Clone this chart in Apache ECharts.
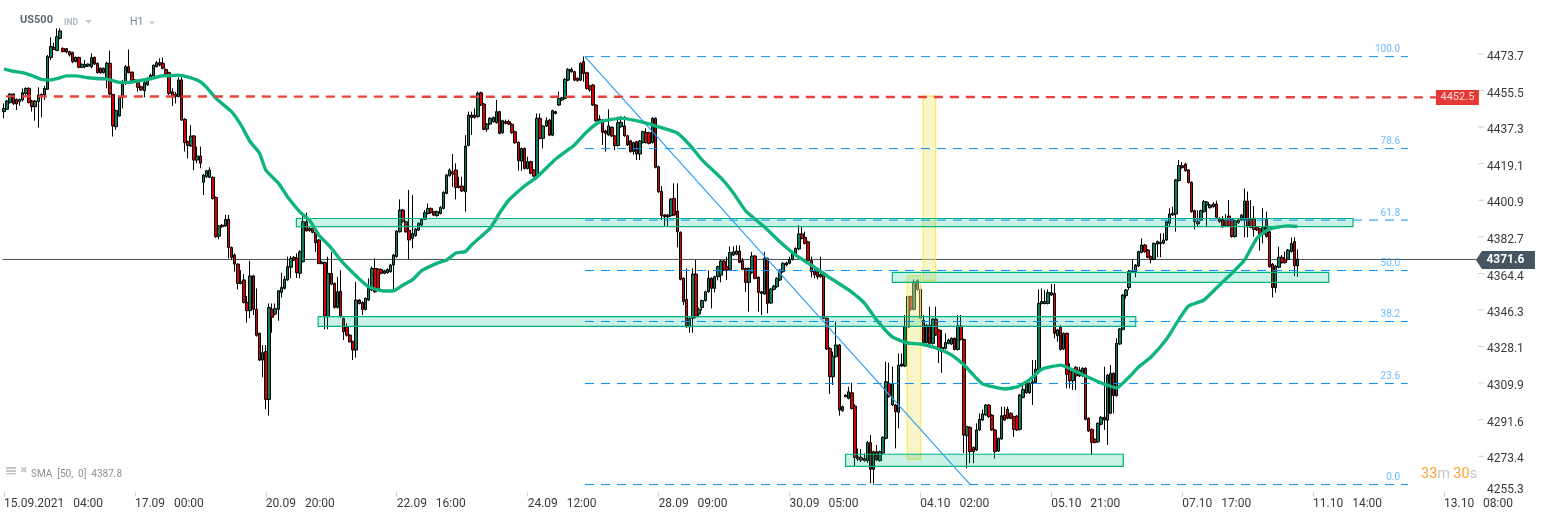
<!DOCTYPE html>
<html><head><meta charset="utf-8">
<style>html,body{margin:0;padding:0;background:#fff}#c{width:1546px;height:518px}</style>
<script src="https://cdn.jsdelivr.net/npm/echarts@6/dist/echarts.min.js"></script>
</head><body><div id="c"></div>
<script>
// [open, close, low, high]
const ohlcPart1 = [
[4445.0,4446.6,4441.7,4449.1],[4446.2,4450.3,4445.8,4450.8],[4449.5,4453.8,4449.1,4454.1],[4453.8,4449.1,4448.3,4454.1],[4451.1,4448.8,4445.8,4451.6],[4450,4451.1,4448,4451.5],[4450.8,4454.5,4450,4456.6],[4454.1,4456.6,4452.5,4457.1],[4456.6,4449.5,4449.1,4457.1],[4450.3,4447.5,4445,4450.8],
[4447.5,4450.3,4440.5,4450.8],[4450,4453.3,4437,4457.1],[4452.5,4453.6,4442.2,4454.1],[4453.3,4456.6,4450.8,4457.8],[4456.1,4472.4,4455.8,4473.2],[4472,4477.4,4470.7,4482],[4477,4476,4475.7,4479.4],[4475.4,4482.3,4475.4,4486.5],[4481.5,4485.2,4481,4486.5],[4476.5,4474.9,4474.5,4477],
[4476.4,4474.7,4474,4476.6],[4474.9,4473.2,4472.5,4475.3],[4474.4,4469.9,4469.1,4474.9],[4469.9,4472,4469.5,4472.5],[4472,4467.1,4466.6,4472.4],[4467.1,4468.6,4466.8,4469],[4467.4,4468.4,4466.6,4470.7],[4467.7,4468.7,4467.2,4469],[4467.4,4472,4466.6,4474],[4472,4468.7,4468.2,4472.5],
[4469.1,4464.4,4464,4469.5],[4466.6,4464.4,4463.8,4467],[4464.4,4466.6,4464,4467],[4461.6,4469.1,4456.6,4469.9],[4469.1,4453.8,4453.3,4475.4],[4453.6,4437.9,4432.6,4453.6],[4437.5,4445.5,4435.9,4446],[4442.8,4452.1,4442.5,4452.5],[4452.1,4459.1,4446.6,4460.8],[4459.1,4467.4,4458.3,4468.2],
[4467.4,4464.4,4464.1,4476],[4464.7,4460.4,4459.9,4464.9],[4460.8,4459.9,4459.5,4461.2],[4460.3,4457.1,4454.9,4460.8],[4457.4,4455.8,4455.3,4458],[4455.4,4459.4,4452.1,4461.6],[4458.3,4461.6,4458,4462],[4461.6,4463.1,4461.2,4463.8],[4462.8,4468.1,4462.4,4468.5],[4467.4,4469.4,4467,4470.2],
[4469.4,4468.2,4467.5,4471.5],[4469.1,4466.6,4466,4472],[4466,4463.7,4463.2,4466.5],[4464.4,4454.1,4453.3,4464.9],[4454.9,4452.5,4447.8,4456.6],[4453.8,4452.5,4449.1,4454.9],[4452.5,4460.8,4452.1,4462.1],[4460.8,4440.8,4440.5,4462.1],[4441.2,4429.6,4425.1,4441.7],[4430.1,4428.1,4421.7,4430.6],
[4427.9,4432.9,4427.5,4438.3],[4432.9,4420.9,4415.9,4433.4],[4420.9,4422.9,4419.3,4427.6],[4422.9,4419.3,4416.8,4427.6],[4409.8,4413.4,4403.5,4414],[4412.6,4415.6,4412,4416],[4412.3,4415.9,4411.9,4417.3],[4412.3,4401.8,4401.2,4412.8],[4402.3,4382.7,4382.2,4402.8],[4383,4388.1,4381.4,4388.5],
[4388.5,4387.7,4387.2,4389],[4388,4391.4,4387.6,4393.6],[4391.4,4377.4,4371.9,4393.6],[4377.4,4372.4,4371,4377.8],[4373.6,4369.1,4365.3,4374.4],[4369.1,4359.5,4356.5,4369.5],[4359.5,4360.3,4359,4366.1],[4361.2,4350,4349.5,4364.1],[4350,4345.9,4339.9,4353.2],[4345.9,4363.2,4342.1,4370.8],
[4363.2,4346.6,4343.7,4363.8],[4346.6,4333.6,4333,4357],[4334.6,4321.3,4320.8,4335],[4321.3,4325,4312.7,4328.8],[4325.5,4301.7,4296.8,4328.8],[4301.7,4347.5,4293.6,4349.5],[4346.6,4342.6,4334.9,4349.5],[4344.2,4346.9,4343.5,4349.5],[4346.6,4355.8,4340.9,4356.2],[4355,4357.5,4352.4,4364.8],
[4357,4361.5,4356.5,4363.2],[4361.2,4367.8,4360.8,4372.8],[4367.5,4371.9,4362,4373.1],[4372.4,4371.1,4370.6,4373.1],[4372,4364.8,4362.2,4374.4]
];
const ohlcPart2 = [
[4364.5,4375.2,4362,4376],[4370.3,4390.2,4369.8,4393],[4390.2,4385.7,4385.2,4394.7],[4386.9,4385.7,4385.2,4387.4],[4386.9,4384.9,4384.4,4388],[4384.9,4379.7,4375.2,4385.4],[4381.1,4369.4,4369,4381.6],[4369.4,4370.1,4368.9,4370.6],[4369.9,4342.9,4336.6,4370.3],[4342.9,4364.5,4336.6,4372.8],
[4364.5,4359.1,4358.6,4375.2],[4359.5,4347.5,4347,4360],[4347.5,4355.3,4347,4362.8],[4355.6,4342.9,4342.4,4366.1],[4342,4335.4,4331.3,4342.5],[4337.9,4333.7,4333,4339.6],[4333.7,4330.4,4330,4334.2],[4330.4,4326.3,4321.3,4331],[4326.3,4351.2,4322.5,4360.3],[4351.2,4349.5,4349,4351.7],
[4350,4346.5,4343.7,4350.5],[4346.5,4352,4346,4352.5],[4351.2,4357,4350.7,4362],[4356.2,4366.9,4355.7,4367.8],[4366.9,4355.3,4354.8,4371.9],[4366.6,4356.2,4355.7,4367],[4366.4,4364.5,4364,4367],[4364.5,4365.8,4364,4366.3],[4364.8,4366.4,4364.3,4367],[4365.3,4368.6,4364.8,4369.2],
[4368.6,4373.6,4356.2,4374.2],[4372.8,4385.5,4372.3,4386],[4385.2,4396,4384.7,4401.3],[4396,4390.2,4389.7,4396.5],[4390.2,4385.2,4384.7,4390.7],[4386,4381.1,4371.6,4406],[4381.9,4384.4,4376.9,4403.5],[4383.2,4386.5,4382.7,4387],[4386,4389.4,4385.5,4389.9],[4388.5,4391.4,4388,4392],
[4391.4,4394.7,4391,4396],[4394.3,4396.8,4393.8,4399.3],[4396.8,4394.7,4394.2,4397.3],[4395.2,4393.5,4393,4395.7],[4393.2,4395.2,4392.7,4395.7],[4394.3,4397.3,4393.8,4398],[4396.8,4404.8,4396.3,4405.3],[4404.3,4413.4,4403.8,4414],[4413.1,4415.9,4412.6,4416.7],[4415.1,4413.9,4407.6,4423.9],
[4415.9,4407.3,4401.3,4419.2],[4407.9,4407.3,4406.8,4412.6],[4407.9,4405.5,4405,4412.6],[4405.1,4427.9,4395.2,4433.3],[4428.2,4443.3,4427.7,4445],[4443.3,4442.1,4433.3,4445],[4443.3,4442.1,4441.6,4446.6],[4442.5,4454.1,4442,4455],[4454.4,4448.3,4447.8,4455],[4448.8,4436.2,4435.7,4449.3],
[4436.3,4438.8,4435,4439.3],[4438.8,4441.7,4438.3,4442.2],[4440,4442.1,4439.5,4442.6],[4439.5,4445,4439,4450.8],[4445,4434.2,4433.7,4445.5],[4434.5,4440.5,4434,4441],[4440,4439.2,4438.7,4441],[4440,4438.8,4438.3,4441],[4438.7,4434.5,4434,4439.2],[4435,4429.5,4429,4435.5],
[4429.7,4420.6,4415.6,4430.2],[4420.4,4426.7,4415.6,4427.2],[4426.7,4416.7,4416.2,4427.2],[4416.7,4420.1,4416.2,4422.6],[4420.1,4414.3,4413.8,4420.6],[4415.9,4412.9,4412.4,4416.4],[4412.6,4441.7,4411.3,4444.1],[4441.7,4431.7,4431.2,4444.1],[4431.7,4437.8,4426.7,4438.3],[4437.8,4440.5,4437.3,4442.1],
[4440.8,4433.3,4432.8,4441.3],[4433.3,4445.5,4432.8,4446],[4445,4444.1,4443.6,4445.5],[4448.3,4451.6,4447.8,4455],[4450.8,4451.9,4450.3,4452.4],[4451.6,4461.1,4451.1,4461.6],[4460.7,4466.1,4460.2,4466.6],[4466.1,4464.9,4464.4,4467],[4464.9,4460.7,4460.2,4465.4],[4461.6,4460.4,4459.9,4462.1],
[4460.7,4469,4460.2,4469.5],[4469.9,4464,4459.9,4472.5]
];
const ohlcPart3 = [
[4464.4,4456.6,4456,4464.9],[4457.8,4455.8,4454.9,4458.3],[4458.3,4448.3,4447.8,4458.8],[4448.3,4440.5,4440,4448.8],[4440.4,4441.3,4440,4443.3],[4440.8,4434.7,4428.4,4441.3],[4435.4,4434.2,4425.1,4436],[4433.4,4437.9,4433,4446.2],[4437.2,4432.9,4432.4,4437.7],[4432.9,4428.1,4425.9,4433.4],
[4428.1,4439.5,4427.6,4442.5],[4437.5,4439.7,4437,4442.8],[4437.9,4433,4432.5,4442.8],[4433,4428.4,4427.9,4433.5],[4430.5,4425.1,4424.6,4431],[4425.1,4429.6,4423.6,4430],[4430,4423.9,4420.9,4430.5],[4423.9,4430.4,4420.9,4430.9],[4429.6,4435,4429.1,4435.5],[4434.7,4429.6,4429.1,4436.7],
[4434.5,4429.2,4428.7,4435],[4429.6,4441.7,4429.1,4442.2],[4441.7,4417.3,4416.8,4442.2],[4417.6,4405.1,4404.6,4418.1],[4405.3,4393.2,4391,4408],[4393.5,4392.7,4387.7,4394],[4393.5,4392.7,4387.7,4394],[4393.2,4401.5,4392.7,4402],[4401.8,4393.5,4393,4409.3],[4395.5,4385.2,4377.4,4409.3],
[4384.9,4361.5,4361,4385.4],[4362,4350.4,4348.7,4362.5],[4351.5,4337.9,4337.4,4367],[4337.9,4342.1,4334.9,4342.6],[4342.1,4364.1,4334.9,4367],[4364.1,4342.9,4342.4,4371.1],[4344.2,4346.6,4342.7,4347.5],[4347.5,4350.9,4346,4351.4],[4350.9,4355.3,4350.4,4355.8],[4355.3,4362,4354.8,4366],
[4362,4357,4347,4362.5],[4357,4362.8,4355,4363.3],[4362.8,4367.8,4361,4368.3],[4363.6,4370.6,4360,4371.1],[4370.6,4366.1,4365.6,4371.1],[4367.8,4366.1,4361.2,4372.8],[4366.5,4374.9,4366,4377.8],[4373.6,4375.2,4373.1,4378],[4374,4375.6,4373.5,4378.4],[4375.6,4370,4369.5,4378.4],
[4370.8,4366.5,4366,4372],[4366.9,4360,4355.3,4367.4],[4360,4366.9,4345.4,4367.4],[4364.8,4373.1,4364.3,4375.2],[4373.1,4362,4361.5,4373.6],[4362.5,4355,4345.4,4363],[4355.3,4354.5,4343.7,4355.8],[4354.2,4371.9,4353.7,4375.2],[4371.9,4349.5,4344.6,4372.4],[4349.7,4356.7,4349.2,4357.2],
[4356.5,4358.2,4356,4358.7],[4357.8,4362,4357.3,4362.5],[4361.2,4366.1,4360.7,4366.6],[4365.3,4369.5,4364.8,4370],[4368.6,4369.7,4368,4370.2],[4369.5,4371.1,4369,4372.8],[4371.4,4374.4,4370.9,4375],[4374.1,4376.9,4373.6,4377.4],[4376.6,4384.1,4376,4388.5],[4384.1,4381.9,4381.4,4387.7],
[4382.4,4379.4,4378.9,4385.2],[4380.2,4370.8,4370.3,4380.7],[4370.8,4365.3,4362.5,4372.8],[4366.1,4363.7,4362,4366.6],[4365.3,4362.8,4361.5,4367],[4362.8,4364,4362.3,4372.8],[4363.7,4342.1,4341.6,4364.2]
];
const ohlcPart4 = [
[4342.1,4326.8,4326.3,4342.6],[4327.1,4313,4304.4,4327.6],[4313,4323.3,4308.9,4325.5],[4323,4328.8,4322.5,4340.4],[4328.8,4296.4,4293.6,4329.3],[4296.1,4298.1,4295.6,4298.6],[4303,4303.8,4303,4304.3],[4302.2,4305.5,4301.7,4308],[4305,4297.2,4296.7,4310],[4298.4,4272.8,4268.5,4299.4],
[4273,4272,4271,4277.3],[4272.8,4271.5,4270.5,4277],[4272.3,4271.2,4270.7,4274.8],[4271.2,4280.2,4270,4281],[4280.2,4266.9,4259.9,4284],[4266.9,4275.7,4259.9,4276.2],[4275.7,4271.5,4271,4279],[4271.2,4275.7,4270.7,4276.2],[4275,4282.8,4274.5,4283.3],[4282.3,4310.5,4281.8,4320.5],
[4309.7,4303.1,4302.6,4320],[4298.9,4309.7,4298.4,4318],[4298.9,4295.6,4277.3,4299.4],[4295.3,4318.8,4287.3,4324.6],[4319.3,4318.3,4317.8,4324.6],[4318.3,4337.9,4317.8,4343.7],[4337.6,4352.9,4337,4353.4],[4352.9,4346.6,4346,4353.5],[4346.6,4360.3,4346,4361.5],[4356.5,4360.8,4355.9,4361.5],
[4356.5,4342.1,4341,4358],[4341.2,4330,4329.5,4343.7],[4330,4338.7,4329.5,4339.2],[4338.7,4329.6,4329,4347.9],[4329.6,4341.7,4329,4342.2],[4341.7,4333.8,4333.3,4347.9],[4336.3,4326.3,4319.7,4336.8],[4327.6,4325.5,4315,4336.3],[4327.1,4330,4326.6,4334.6],[4329.6,4331.3,4329.1,4332],
[4329.3,4332.1,4328.8,4332.6],[4332.1,4326.6,4326.1,4332.6],[4326.6,4338.3,4326,4343.7],[4338.3,4331.6,4331,4343.7],[4331.6,4284,4275,4332],[4283.6,4288.1,4267.4,4288.6],[4287.8,4275.7,4269.9,4288.3],[4277.8,4275.7,4269.9,4278.3],[4276.5,4286.5,4276,4289.8],[4286.5,4291.8,4286,4294.8],
[4291.5,4294.4,4291,4296.7],[4294,4298.9,4293.5,4299.4],[4298.9,4293.1,4292.6,4299.4],[4293.9,4286.5,4286,4294.4],[4286.5,4275.7,4272.3,4287],[4276,4282.3,4275.5,4282.8],[4282,4293.6,4281.5,4298.1],[4293.9,4291.4,4291,4298.1],[4296.8,4292.3,4291.8,4298.1],[4294.8,4292.3,4291.8,4295.3],
[4293.1,4286.8,4283.1,4293.6],[4293.4,4286.5,4286,4293.9],[4286.8,4303.9,4286.3,4304.4],[4302.7,4306.7,4302.2,4309.7],[4305,4309.7,4304.5,4310.2],[4305,4309.7,4304.5,4310.2],[4309.7,4310.5,4298.9,4321.3],[4310.2,4316.8,4309.7,4321.3],[4316.6,4349.5,4316,4356.5],[4349.5,4350.4,4349,4357],
[4349.5,4350.4,4349,4356.2],[4349.5,4354.9,4349,4356.5],[4353.7,4354.9,4353.2,4359.2],[4354.5,4334.6,4332.1,4359.2],[4333.4,4336.3,4330.4,4336.8],[4337.6,4326.6,4326,4338.7],[4326.8,4334.6,4326.3,4335],[4334.6,4314.2,4307.2,4335],[4315.5,4311,4307.2,4319.7],[4311,4315.5,4306.4,4316],
[4317.7,4313.4,4306.4,4318.2],[4313.4,4316.3,4312.9,4318],[4313.4,4317.2,4312.9,4317.7],[4317.2,4291.8,4291.3,4317.7],[4292.3,4286,4285.5,4292.8],[4286.8,4280.3,4274,4287.3],[4281.8,4280.3,4279.8,4282.3],[4280.6,4289.8,4280.1,4290.3],[4289.3,4292.8,4288.8,4293.3],[4292.8,4291.4,4286.5,4318],
[4291.4,4313.8,4279,4314.3],[4294.8,4314.7,4294.3,4318.8],[4314.7,4303.6,4294.8,4315.2],[4303.6,4329.6,4303.1,4332.1],[4329.3,4336.8,4328.8,4337.3],[4336.6,4353.7,4336.1,4354.2],[4353.4,4356.2,4352,4356.7]
];
const ohlcPart5 = [
[4357.4,4365.3,4356.2,4366.2],[4365.3,4365.8,4364.8,4371.5],[4365.3,4368.6,4362.5,4369.1],[4368.1,4375.3,4367.6,4375.8],[4374.9,4378.6,4374.4,4381.9],[4378.6,4375.3,4374.8,4379.1],[4376.1,4372.5,4372,4376.6],[4372.8,4371.5,4369.5,4373.3],[4371.5,4379.4,4371,4379.9],[4379.1,4380.3,4372.5,4380.8],
[4379.2,4380,4372.5,4384.4],[4379.5,4381.1,4379,4384.4],[4381.1,4390.2,4380.6,4390.7],[4389.4,4394,4387.7,4396.9],[4393.6,4394.4,4393.1,4397.7],[4394,4411,4385.2,4411.5],[4410.7,4418.1,4410.2,4420.9],[4418.1,4417.1,4416.6,4420],[4418.9,4415.6,4415.1,4419.6],[4416,4409.7,4409.2,4416.3],
[4409.8,4395.2,4394.7,4410.3],[4395.7,4390.2,4386.4,4396.2],[4390.2,4389.1,4388.1,4396],[4391,4395.7,4390.5,4396.2],[4395.2,4400.2,4394.7,4401],[4398.5,4399.9,4387.4,4400.5],[4397.2,4398.5,4396.7,4399],[4399,4397.7,4397.2,4400],[4399,4392.4,4391.9,4400.7],[4391.9,4390.2,4389.7,4392.5],
[4391.4,4387.7,4387.2,4393],[4391,4388.1,4387.6,4394],[4393,4388.1,4387.6,4401],[4391.4,4382.8,4382.3,4391.9],[4382.8,4390.7,4382.3,4391.2],[4389.7,4391,4389.2,4391.5],[4391,4393.5,4390.5,4394],[4391,4400.5,4382.4,4406.8],[4400.5,4388.1,4382.4,4405.2],[4391.6,4387.4,4386.9,4401],
[4391.9,4386.4,4382.8,4398],[4387.4,4386.1,4385.6,4387.9],[4386.6,4383.9,4375.8,4387.1],[4383.9,4387.4,4379.4,4396.9],[4391.4,4382.8,4382.3,4395.2],[4385.2,4367.8,4367.3,4385.7],[4369.1,4357.4,4352.5,4369.6],[4357.4,4368.2,4354.9,4368.7],[4367.5,4372.5,4367,4377.8],[4372.5,4369.8,4369.3,4373.6],
[4371.5,4369.8,4369.3,4375.3],[4371.5,4376.1,4371,4376.6],[4375.3,4379.4,4374.8,4382.3],[4380.3,4368.2,4363.2,4382.4],[4368.2,4371.6,4362.8,4376.4]
];
const ohlc = [...ohlcPart1, ...ohlcPart2, ...ohlcPart3, ...ohlcPart4, ...ohlcPart5];

const smaIndex = [0,3,6,9,12,15,17,20,23,27,31,33,37,40,44,47,51,53,56,60,63,65,68,73,76,79,82,84,88,91,95,98,101,105,108,113,117,122,125,128,131,134,139,142,145,148,150,156,159,162,167,171,177,183,187,191,198,202,206,210,216,220,224,230,234,238,244,249,254,260,265,271,276,280,285,290,294,299,304,308,311,314,321,325,329,333,339,343,347,352,357,361,364,368,373,377,380,385,390,394,398,402,406,412,415];
const smaValues = [4466.2,4465.1,4464.4,4462.9,4461.1,4460.8,4461.4,4462.8,4462.8,4461.9,4461.4,4461.3,4459.6,4459.6,4460.6,4461.4,4462.9,4462.9,4463.2,4461.8,4459.9,4457.1,4451.6,4445,4438.4,4430,4424.3,4415.9,4409.5,4402.5,4395,4391,4383.6,4377.1,4371.1,4363.2,4357.8,4355.7,4355.8,4358.7,4361.2,4365.8,4369.6,4371.1,4374.6,4375.3,4378.6,4387,4394.5,4401,4408,4412.5,4421.4,4428.4,4435,4439.8,4441.8,4440.8,4439.3,4437.4,4434.4,4428.4,4420.9,4412,4404.5,4395.5,4387.6,4380.1,4373.6,4367.6,4362.2,4356.2,4349.7,4341.2,4332.8,4329.8,4329.3,4327.3,4323.8,4318.8,4313.9,4309.4,4306.9,4307.9,4311.4,4316.8,4318.8,4316.3,4313.4,4309.9,4307.4,4312.9,4317.8,4322.8,4331.8,4341.7,4348.2,4351.2,4358.7,4364.6,4371.1,4382,4386.6,4388.1,4387.8];

const yTicks = [4473.7,4455.5,4437.3,4419.1,4400.9,4382.7,4364.4,4346.3,4328.1,4309.9,4291.6,4273.4];
const yBottomLabel = 4255.3;
const timeLabels = ['15.09.2021   04:00','17.09   00:00','20.09   20:00','22.09   16:00','24.09   12:00','28.09   09:00','30.09   05:00','04.10   02:00','05.10   21:00','07.10   17:00','11.10   14:00','13.10   08:00'];
const labelEvery = 42;
const slotCount = 473;
const categories = Array.from({length: slotCount}, (_, i) => i);

const fibNames = ['100.0','78.6','61.8','50.0','38.2','23.6','0.0'];
const fibPrices = [4472.4,4426.6,4391,4365.9,4340.5,4309.6,4259.3];
const fibStart = 186.4, fibEnd = 450.4, fibLabelAt = 447.9;
const trendIndex = [186.4,310], trendPrice = [4472.4,4259.3];
const zonesGreen = [[93.8,432.8,4391.8,4387.7],[285,425,4365,4360],[100.8,363.1,4342.9,4338.1],[270,359.1,4274.4,4268.4]];
const zonesYellow = [[294.9,298.9,4452.8,4360.8],[289.8,294.1,4363.2,4271.9]];
const resistIndex = [0.6,459.4], resistPrice = [4452.6,4452.1], resistLabel = '4452.5';
const lastPrice = 4371.6, lastLineLevel = 4371.4, lastLabel = '4371.6';

const font = 'Roboto';
const chart = echarts.init(document.getElementById('c'), null, {renderer: 'canvas'});

function rectSeries(list, fill, stroke, lw, z) {
  return {
    type: 'custom', xAxisIndex: 1, yAxisIndex: 0, z, silent: true, animation: false,
    data: list, encode: {x: [0, 1], y: [2, 3]},
    renderItem(params, api) {
      const a = api.coord([api.value(0), api.value(2)]);
      const b = api.coord([api.value(1), api.value(3)]);
      return {type: 'rect',
        shape: {x: a[0], y: a[1], width: b[0] - a[0], height: b[1] - a[1]},
        style: {fill, stroke, lineWidth: lw}};
    }
  };
}
function lineSeries(data, color, width, type, z, extra) {
  return Object.assign({
    type: 'line', xAxisIndex: 1, yAxisIndex: 0, data, showSymbol: false, symbol: 'none',
    silent: true, animation: false, z, lineStyle: {color, width, type}
  }, extra || {});
}

const series = [
  {type: 'candlestick', xAxisIndex: 0, yAxisIndex: 0, data: ohlc, barWidth: 3, z: 2, silent: true, animation: false, large: false,
   itemStyle: {color: '#0a7d5c', color0: '#d80000', borderColor: '#000', borderColor0: '#000', borderWidth: 1}},
  lineSeries([[-0.5, lastLineLevel],[slotCount-0.5, lastLineLevel]], '#454f56', 1, 'solid', 1),
  rectSeries(zonesYellow, 'rgba(240,232,140,0.45)', '#ffe93b', 1, 3),
  rectSeries(zonesGreen, 'rgba(0,190,130,0.21)', '#00b383', 1.2, 4),
];
fibPrices.forEach(p => series.push(lineSeries([[fibStart,p],[fibEnd,p]], '#0091ff', 1, [9,7], 5)));
series.push(lineSeries(trendIndex.map((x,i)=>[x,trendPrice[i]]), '#2f9bf5', 1.2, 'solid', 5));
series.push(lineSeries(smaIndex.map((x,i)=>[x,smaValues[i]]), '#0eb47f', 3.4, 'solid', 6, {smooth: 0.15}));
series.push(lineSeries(resistIndex.map((x,i)=>[x,resistPrice[i]]), '#e8403c', 2.4, [9,7], 7));
series.push({type:'scatter', xAxisIndex:1, yAxisIndex:0, z:8, silent:true, animation:false, symbolSize:0,
  data: fibNames.map((n,i)=>({value:[fibLabelAt,fibPrices[i]], name:n})),
  label:{show:true, position:'top', distance:2, align:'right', formatter:'{b}', color:'#4aa8ff', fontSize:10, fontFamily:font}});
series.push({type:'scatter', xAxisIndex:1, yAxisIndex:0, z:9, silent:true, animation:false, clip:false,
  symbol:'rect', symbolSize:[43,15], itemStyle:{color:'#e53935', opacity:1},
  data:[[466.3, resistPrice[1]]],
  label:{show:true, position:'inside', formatter:resistLabel, color:'#ffe3e1', fontSize:11, fontFamily:font}});
series.push({type:'scatter', xAxisIndex:1, yAxisIndex:0, z:9, silent:true, animation:false, clip:false,
  symbol:'path://M0 9 L6 0 H59 V18 H6 Z', symbolKeepAspect:false, symbolSize:[59,18], symbolOffset:[0,1], itemStyle:{color:'#46555f', opacity:1},
  data:[[481.7, lastPrice]],
  label:{show:true, position:'inside', formatter:lastLabel, color:'#fff', fontSize:12, fontWeight:'bold', fontFamily:font}});
// right-hand tick marks beside the price labels
series.push({type:'scatter', xAxisIndex:1, yAxisIndex:0, z:1, silent:true, animation:false, clip:false,
  symbol:'rect', symbolSize:[6,1], itemStyle:{color:'#c8d0d6', opacity:1},
  data: yTicks.map(v=>[473.9, v])});

const gText = (x,y,text,fill,size,weight) => ({type:'text', left:x, top:y, silent:true,
  style:{text, fill, fontSize:size, fontFamily:font, fontWeight:weight||'normal'}});
const tri = (x,y,w,h,fill) => ({type:'polygon', silent:true, shape:{points:[[x,y],[x+w,y],[x+w/2,y+h]]}, style:{fill}});

chart.setOption({
  animation: false,
  backgroundColor: '#fff',
  grid: {left: 2.44, top: 0, width: 1474.3, height: 492.6, containLabel: false},
  xAxis: [
    {type:'category', data:categories, boundaryGap:true, position:'bottom',
     axisLine:{show:false},
     axisTick:{show:true, alignWithLabel:true, length:4, interval:(i)=>i%labelEvery===0, lineStyle:{color:'#c8ced3'}},
     axisLabel:{show:true, interval:(i)=>i%labelEvery===0, align:'left', margin:5, hideOverlap:false,
       color:'#3a3a3a', fontSize:12, fontFamily:font,
       formatter:(v,i)=>timeLabels[i/labelEvery]||''},
     splitLine:{show:false}},
    {type:'value', min:-0.5, max:slotCount-0.5, show:false, splitLine:{show:false}}
  ],
  yAxis: [{
    type:'value', position:'right', min:yBottomLabel, max:4500.6, offset:1.2, scale:true,
    axisLine:{show:false},
    axisTick:{show:false},
    axisLabel:{show:true, margin:9, padding:[6,0,0,0], color:'#3a3a3a', fontSize:12, fontFamily:font,
      customValues:[...yTicks, yBottomLabel], showMinLabel:true, showMaxLabel:true,
      formatter:(v)=> Math.abs(v-yBottomLabel)<0.01 ? '{low|'+v.toFixed(1)+'}' : v.toFixed(1),
      rich:{low:{padding:[0,0,11,0], color:'#3a3a3a', fontSize:12, fontFamily:font}}},
    splitLine:{show:false}
  }],
  graphic: {elements: [
    gText(20,15,'US500','#5e6b76',11,'bold'),
    gText(64,18,'IND','#aeb6bd',8.5,'bold'),
    tri(85,20,7,3.5,'#c3c8cc'),
    gText(130,17,'H1','#7d8890',10.5),
    tri(149,21.5,6,3,'#c3c8cc'),
    {type:'rect', silent:true, shape:{x:6,y:467,width:10,height:2}, style:{fill:'#c4c8cb'}},
    {type:'rect', silent:true, shape:{x:6,y:470,width:10,height:2}, style:{fill:'#c4c8cb'}},
    {type:'rect', silent:true, shape:{x:6,y:473,width:10,height:1.5}, style:{fill:'#c4c8cb'}},
    {type:'text', silent:true, left:20, top:466, style:{text:'✖', fill:'#c4c8cb', fontSize:9, fontFamily:'DejaVu Sans'}},
    gText(31,469,'SMA  [50,  0]  4387.8','#8b9197',10),
    {type:'text', silent:true, left:1421, top:467, style:{
      text:'{a|33}{b|m} {a|30}{b|s}',
      rich:{a:{fill:'#ff9f2e',color:'#ff9f2e',fontSize:14.5,fontFamily:font}, b:{fill:'#c6c6c6',color:'#c6c6c6',fontSize:14.5,fontFamily:font}}}}
  ]},
  series
});
</script></body></html>
